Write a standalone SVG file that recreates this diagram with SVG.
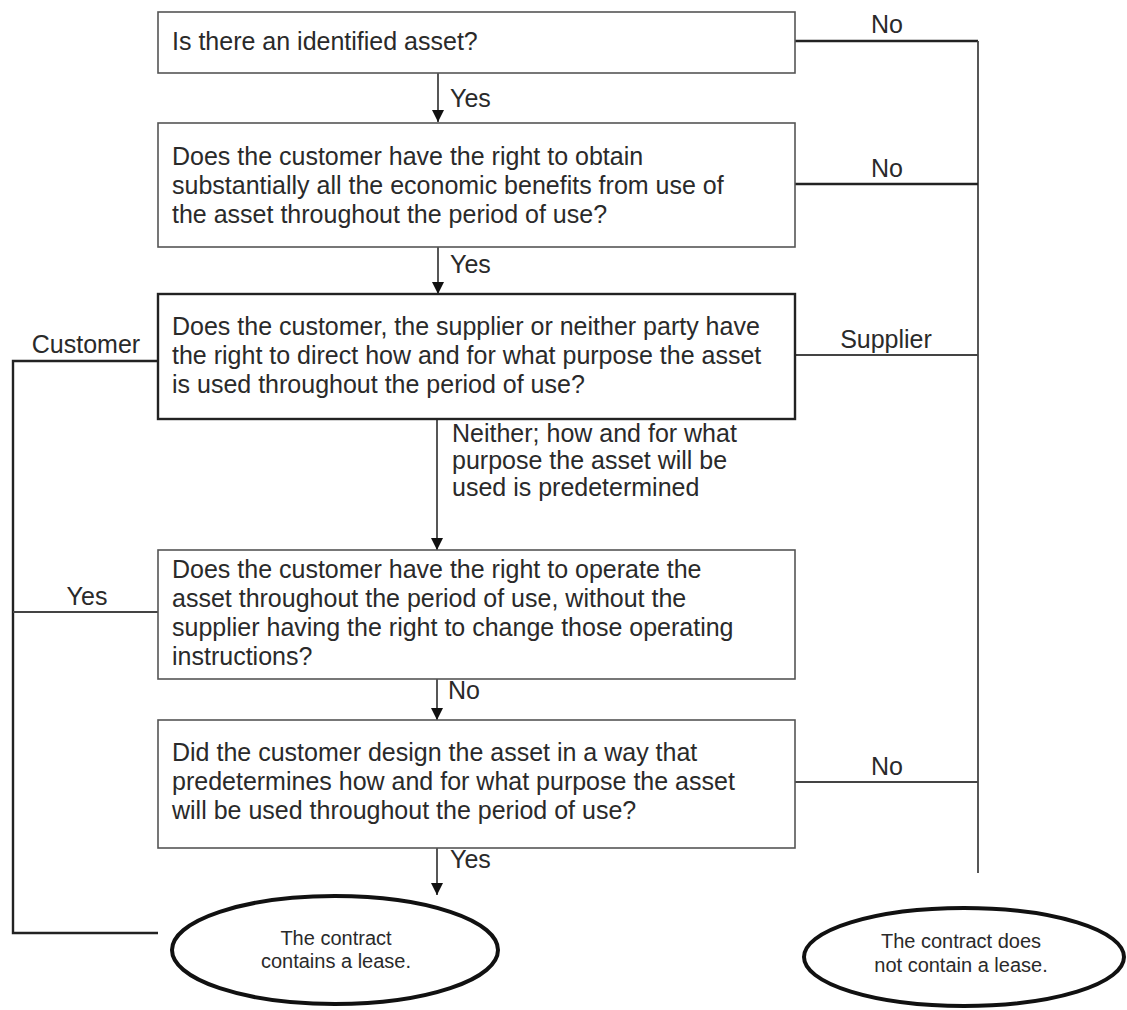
<svg xmlns="http://www.w3.org/2000/svg" width="1127" height="1010" viewBox="0 0 1127 1010">
<style>
.box{fill:#fff;stroke:#555;stroke-width:1.6}
.box3{fill:#fff;stroke:#222;stroke-width:2.4}
.t{font-family:"Liberation Sans",Arial,sans-serif;font-size:25px;fill:#2a2a2a}
.s{font-family:"Liberation Sans",Arial,sans-serif;font-size:20px;fill:#2a2a2a}
.ln{stroke:#444;stroke-width:1.8;fill:none}
.lk{stroke:#222;stroke-width:2.4;fill:none}
.ell{fill:#fff;stroke:#111;stroke-width:4}
</style>
<defs>
<marker id="arr" viewBox="0 0 12 12" refX="12" refY="6" markerWidth="12" markerHeight="12" orient="auto" markerUnits="userSpaceOnUse">
<path d="M0,0 L12,6 L0,12 z" fill="#111"/>
</marker>
</defs>
<g id="connectors">
<line class="ln" x1="438" y1="73" x2="438" y2="122" marker-end="url(#arr)"/>
<line class="ln" x1="438" y1="247" x2="438" y2="294" marker-end="url(#arr)"/>
<line class="ln" x1="437" y1="419" x2="437" y2="550" marker-end="url(#arr)"/>
<line class="ln" x1="437" y1="679" x2="437" y2="720" marker-end="url(#arr)"/>
<line class="ln" x1="437" y1="848" x2="437" y2="895" marker-end="url(#arr)"/>
<polyline class="lk" points="795,41 978,41"/>
<line class="ln" x1="978" y1="41" x2="978" y2="873"/>
<line class="lk" x1="795" y1="184" x2="978" y2="184"/>
<line class="ln" x1="795" y1="355" x2="978" y2="355"/>
<line class="ln" x1="795" y1="782" x2="978" y2="782"/>
<polyline class="lk" points="158,361 13,361 13,933 158,933"/>
<line class="ln" x1="13" y1="612" x2="158" y2="612"/>
<text class="t" x="450" y="107">Yes</text>
<text class="t" x="450" y="273">Yes</text>
<text class="t" x="452" y="442">Neither; how and for what</text>
<text class="t" x="452" y="469">purpose the asset will be</text>
<text class="t" x="452" y="496">used is predetermined</text>
<text class="t" x="448" y="699">No</text>
<text class="t" x="450" y="868">Yes</text>
<text class="t" x="887" y="33" text-anchor="middle">No</text>
<text class="t" x="887" y="177" text-anchor="middle">No</text>
<text class="t" x="886" y="348" text-anchor="middle">Supplier</text>
<text class="t" x="887" y="775" text-anchor="middle">No</text>
<text class="t" x="86" y="353" text-anchor="middle">Customer</text>
<text class="t" x="87" y="605" text-anchor="middle">Yes</text>
</g>
<g id="n1">
<rect class="box" x="158" y="12" width="637" height="61"/>
<text class="t" x="172" y="50">Is there an identified asset?</text>
</g>
<g id="n2">
<rect class="box" x="158" y="123" width="637" height="124"/>
<text class="t" x="172" y="165">Does the customer have the right to obtain</text>
<text class="t" x="172" y="194">substantially all the economic benefits from use of</text>
<text class="t" x="172" y="223">the asset throughout the period of use?</text>
</g>
<g id="n3">
<rect class="box3" x="158" y="294" width="637" height="125"/>
<text class="t" x="172" y="335">Does the customer, the supplier or neither party have</text>
<text class="t" x="172" y="364">the right to direct how and for what purpose the asset</text>
<text class="t" x="172" y="393">is used throughout the period of use?</text>
</g>
<g id="n4">
<rect class="box" x="158" y="550" width="637" height="129"/>
<text class="t" x="172" y="578">Does the customer have the right to operate the</text>
<text class="t" x="172" y="607">asset throughout the period of use, without the</text>
<text class="t" x="172" y="636">supplier having the right to change those operating</text>
<text class="t" x="172" y="665">instructions?</text>
</g>
<g id="n5">
<rect class="box" x="158" y="720" width="637" height="128"/>
<text class="t" x="172" y="761">Did the customer design the asset in a way that</text>
<text class="t" x="172" y="790">predetermines how and for what purpose the asset</text>
<text class="t" x="172" y="819">will be used throughout the period of use?</text>
</g>
<g id="n6">
<ellipse class="ell" cx="335" cy="950" rx="163" ry="54"/>
<text class="s" x="336" y="945" text-anchor="middle">The contract</text>
<text class="s" x="336" y="968" text-anchor="middle">contains a lease.</text>
</g>
<g id="n7">
<ellipse class="ell" cx="964" cy="957" rx="160" ry="49"/>
<text class="s" x="961" y="948" text-anchor="middle">The contract does</text>
<text class="s" x="961" y="972" text-anchor="middle">not contain a lease.</text>
</g>
</svg>
